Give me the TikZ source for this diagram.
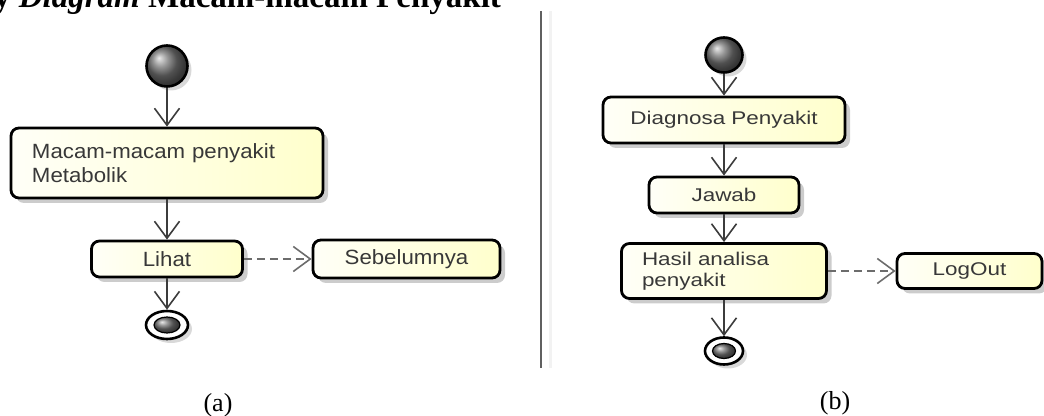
\documentclass[tikz,border=0pt]{standalone}
\usepackage{fontspec}
\setmainfont{Liberation Serif}
\newfontfamily\actfonta[FakeStretch=1.08]{Liberation Sans}
\newfontfamily\actfontb[FakeStretch=1.22]{Liberation Sans}
\usetikzlibrary{arrows.meta,shapes.geometric,shadows}
\definecolor{actline}{HTML}{3C3C3C}
\definecolor{acttext}{HTML}{383838}
\tikzset{
  act/.style={rectangle, rounded corners=4pt, draw=black, line width=1.4pt,
    left color=yellow!3, right color=yellow!20, text=acttext, inner sep=0pt,
    drop shadow={shadow xshift=2.5pt, shadow yshift=-2.5pt, fill=black, opacity=.2}},
  acta/.style={act, font=\actfonta\fontsize{10.3}{12}\selectfont},
  actb/.style={act, font=\actfontb\fontsize{9.2}{10.5}\selectfont},
  startdot/.style={ellipse, draw=black, line width=1.3pt, ball color=gray!90!black, inner sep=0pt,
    drop shadow={shadow xshift=2pt, shadow yshift=-2pt, fill=black, opacity=.15}},
  enddot/.style={ellipse, draw=black, line width=1.3pt, fill=white, inner sep=0pt,
    drop shadow={shadow xshift=2pt, shadow yshift=-2pt, fill=black, opacity=.15}},
  enddotin/.style={ellipse, draw=black, line width=.6pt, ball color=gray!90!black, inner sep=0pt},
  flow/.style={-{Straight Barb[length=8.5pt,width=12.5pt]}, line width=.8pt, draw=actline},
  dflow/.style={flow, dash pattern=on 4pt off 2.5pt, draw=gray!85!black},
  caption/.style={font=\fontsize{13}{15}\selectfont}
}
\begin{document}
\begin{tikzpicture}[x=0.5pt,y=-0.5pt]
\useasboundingbox (0,0) rectangle (1044,416);
\node[anchor=base east, font=\fontsize{16.5}{19}\selectfont\bfseries] (title) at (508,8)
  {y \textit{Diagram} Macam-macam Penyakit};
% (a)
\node[startdot, minimum width=20.5pt, minimum height=20.5pt] (starta) at (167,66) {};
\node[acta, minimum width=156pt, minimum height=35pt, text width=135pt, align=left] (macam) at (167,163)
  {Macam-macam penyakit\\Metabolik};
\node[acta, minimum width=75.5pt, minimum height=18pt] (lihat) at (167,259) {Lihat};
\node[acta, minimum width=93.5pt, minimum height=19pt] (sebelum) at (406.5,259) {Sebelumnya};
\node[enddot, minimum width=21pt, minimum height=14pt] (enda) at (167,325) {};
\node[enddotin, minimum width=13pt, minimum height=8pt] (endain) at (enda) {};
\draw[flow] (starta) -- (macam);
\draw[flow] (macam) -- (lihat);
\draw[dflow] (lihat) -- (sebelum);
\draw[flow] (lihat) -- (enda);
\node[caption] (capa) at (218,405) {(a)};
% separator
\draw[line width=1pt, gray!75!black] (541,11) -- (541,368);
\draw[line width=1.5pt, gray!10] (550,11) -- (550,368);
% (b)
\node[startdot, minimum width=18.5pt, minimum height=17.5pt] (startb) at (724,55) {};
\node[actb, minimum width=121pt, minimum height=23pt] (diagnosa) at (724,120) {Diagnosa Penyakit};
\node[actb, minimum width=75pt, minimum height=18pt] (jawab) at (724,195) {Jawab};
\node[actb, minimum width=102.5pt, minimum height=27.5pt, text width=82pt, align=left] (hasil) at (724,271)
  {Hasil analisa\\penyakit};
\node[actb, minimum width=72.5pt, minimum height=17.5pt] (logout) at (969.5,271) {LogOut};
\node[enddot, minimum width=19pt, minimum height=13.5pt] (endb) at (724,351) {};
\node[enddotin, minimum width=11.5pt, minimum height=7.5pt] (endbin) at (endb) {};
\draw[flow] (startb) -- (diagnosa);
\draw[flow] (diagnosa) -- (jawab);
\draw[flow] (jawab) -- (hasil);
\draw[dflow] (hasil) -- (logout);
\draw[flow] (hasil) -- (endb);
\node[caption] (capb) at (835,403) {(b)};
\end{tikzpicture}
\end{document}
